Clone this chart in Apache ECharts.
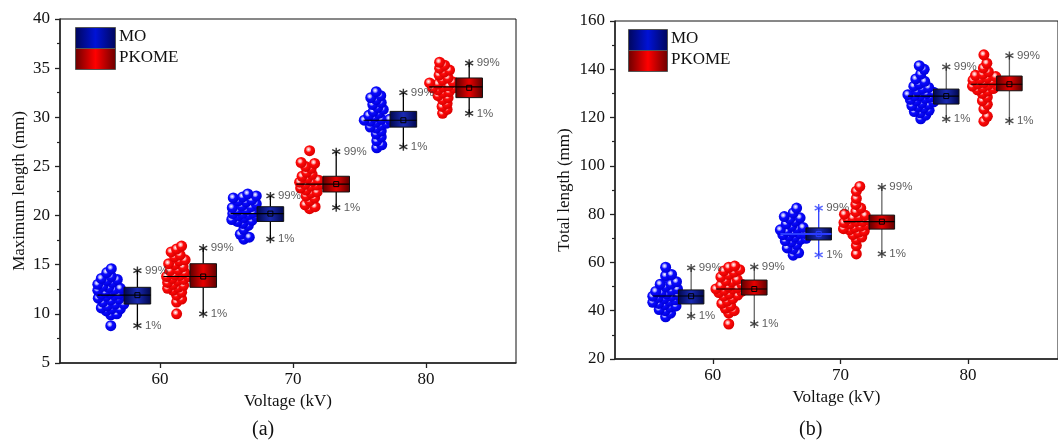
<!DOCTYPE html>
<html>
<head>
<meta charset="utf-8">
<script src="https://cdn.jsdelivr.net/npm/echarts@6/dist/echarts.min.js"></script>
<style>
  html, body { margin: 0; padding: 0; background: #fff; }
  #main { width: 1058px; height: 442px; }
</style>
</head>
<body>
<div id="main"></div>
<script>
// voltage groups (kV)
const voltages = [60, 70, 80];

// (a) maximum length (mm), individual measurements per voltage
const maxLenMO = [
  [8.8, 9.9, 10.0, 10.3, 10.5, 10.5, 10.6, 10.8, 11.0, 11.0, 11.2, 11.4, 11.5, 11.6, 11.8, 11.9, 11.9, 12.0, 12.0, 12.1, 12.2, 12.4, 12.5, 12.6, 12.7, 12.8, 13.0, 13.2, 13.4, 13.5, 13.6, 13.8, 14.2, 14.6],
  [17.6, 17.8, 18.1, 18.6, 19.0, 19.2, 19.4, 19.5, 19.6, 19.8, 19.9, 20.0, 20.1, 20.2, 20.2, 20.3, 20.5, 20.6, 20.8, 20.9, 21.0, 21.2, 21.4, 21.5, 21.6, 21.8, 21.9, 22.0, 22.2],
  [26.9, 27.2, 27.6, 28.0, 28.3, 28.6, 28.9, 29.0, 29.2, 29.4, 29.5, 29.6, 29.7, 29.8, 29.8, 30.0, 30.2, 30.4, 30.6, 30.8, 31.0, 31.3, 31.5, 31.8, 32.0, 32.2, 32.6]
];
const maxLenPKOME = [
  [10.0, 11.2, 11.5, 11.9, 12.2, 12.4, 12.6, 12.7, 12.9, 13.0, 13.2, 13.4, 13.5, 13.6, 13.8, 13.8, 13.9, 14.0, 14.2, 14.4, 14.5, 14.8, 15.0, 15.1, 15.4, 15.5, 15.8, 16.0, 16.3, 16.6, 16.9],
  [20.7, 20.9, 21.1, 21.5, 21.8, 22.0, 22.3, 22.4, 22.6, 22.8, 23.0, 23.1, 23.2, 23.2, 23.4, 23.5, 23.6, 23.8, 24.0, 24.2, 24.4, 24.8, 25.0, 25.3, 25.4, 26.6],
  [30.4, 30.8, 31.1, 31.4, 31.8, 32.0, 32.2, 32.5, 32.6, 32.8, 33.0, 33.0, 33.1, 33.2, 33.4, 33.5, 33.6, 33.8, 34.0, 34.3, 34.6, 34.8, 35.0, 35.3, 35.6]
];
// box stats: [1%, 25%, median, mean, 75%, 99%]
const maxLenMOBox = [[8.8, 11.0, 11.9, 11.9, 12.7, 14.4], [17.6, 19.4, 20.2, 20.2, 20.9, 22.0], [27.0, 29.0, 29.7, 29.7, 30.6, 32.5]];
const maxLenPKOMEBox = [[10.0, 12.7, 13.8, 13.8, 15.1, 16.7], [20.8, 22.4, 23.2, 23.2, 24.0, 26.5], [30.4, 32.0, 33.1, 33.0, 34.0, 35.5]];

// (b) total length (mm)
const totLenMO = [
  [37.5, 39.0, 40.0, 40.5, 41.5, 42.0, 42.5, 43.0, 43.5, 44.0, 44.5, 45.0, 45.5, 46.0, 46.0, 46.5, 47.0, 47.5, 48.0, 48.5, 49.0, 50.0, 51.0, 51.0, 52.0, 54.5, 55.0, 58.0],
  [63.0, 64.0, 65.5, 66.0, 67.5, 68.5, 69.0, 69.5, 70.0, 70.5, 71.0, 71.5, 72.0, 72.0, 72.5, 73.0, 73.5, 74.0, 74.5, 75.0, 76.0, 77.0, 78.0, 78.5, 79.0, 80.5, 82.5],
  [119.5, 121.0, 122.0, 122.5, 123.0, 124.0, 124.5, 125.0, 125.5, 126.0, 126.5, 127.0, 127.5, 128.0, 128.5, 129.0, 129.0, 129.5, 130.0, 130.5, 131.0, 132.0, 132.5, 133.0, 134.0, 135.0, 136.0, 138.0, 140.0, 141.5]
];
const totLenPKOME = [
  [34.5, 39.0, 40.0, 41.0, 42.0, 43.0, 44.0, 45.0, 46.0, 46.5, 47.0, 47.5, 48.0, 48.5, 49.0, 49.0, 49.5, 50.0, 50.5, 51.0, 52.0, 52.5, 53.0, 54.0, 55.0, 56.0, 56.5, 57.0, 58.0, 58.5],
  [63.5, 67.0, 69.5, 70.5, 71.5, 72.5, 73.0, 73.5, 74.0, 74.5, 75.0, 75.5, 76.0, 76.5, 77.0, 77.0, 77.5, 78.0, 78.5, 79.0, 79.5, 80.0, 81.0, 82.5, 84.0, 86.5, 89.5, 91.5],
  [118.5, 120.5, 123.5, 125.5, 127.0, 128.5, 130.0, 131.0, 131.5, 132.0, 132.5, 133.0, 133.5, 133.5, 134.0, 134.5, 135.0, 135.5, 136.0, 136.5, 137.0, 137.5, 138.0, 139.0, 140.5, 142.5, 146.0]
];
const totLenMOBox = [[37.8, 42.8, 46.1, 46.0, 48.6, 57.7], [63.1, 69.3, 71.8, 71.8, 74.3, 82.5], [119.4, 125.6, 128.9, 128.9, 131.8, 141.0]];
const totLenPKOMEBox = [[34.5, 46.5, 49.0, 49.0, 52.7, 58.2], [63.5, 73.8, 76.9, 76.9, 79.6, 91.2], [118.6, 131.1, 133.8, 133.8, 137.2, 145.7]];

const seriesNames = ['MO', 'PKOME'];

// layout / style
const SERIF = 'Liberation Serif';
const BOX_HALF = 1.0;        // half box width in kV
const BOX_OFF = [-1.7, 3.25]; // box centre offset from voltage
const SWARM_GAP = 2.0;       // swarm centre is left of the box
const SWARM_HALF = 13;       // max sideways spread of a swarm, px
const DOT = 11;
const ASTER = 'path://M5,0L5,10M0.67,2.5L9.33,7.5M0.67,7.5L9.33,2.5';

const blueDot = { type: 'radial', x: 0.4, y: 0.38, r: 0.6, colorStops: [
  { offset: 0, color: '#ffffff' }, { offset: 0.25, color: '#9a9aff' }, { offset: 0.45, color: '#0a0aff' }, { offset: 1, color: '#0000dc' }] };
const redDot = { type: 'radial', x: 0.4, y: 0.38, r: 0.6, colorStops: [
  { offset: 0, color: '#ffffff' }, { offset: 0.25, color: '#ff9a9a' }, { offset: 0.45, color: '#ff0a0a' }, { offset: 1, color: '#dc0000' }] };
const blueBox = [{ offset: 0, color: '#00064a' }, { offset: 0.5, color: '#1a2ab4' }, { offset: 1, color: '#00064a' }];
const redBox = [{ offset: 0, color: '#5a0000' }, { offset: 0.5, color: '#e80000' }, { offset: 1, color: '#5a0000' }];

const panels = [
  { grid: { left: 60, top: 19, width: 456, height: 344 }, x: [52.48, 86.77], y: [5, 40, 5],
    yName: 'Maximum length (mm)', yGap: 32, tag: '(a)', tagX: 263,
    pts: [maxLenMO, maxLenPKOME], box: [maxLenMOBox, maxLenPKOMEBox],
    whisker: [['#000', '#000', '#000'], ['#000', '#000', '#000']], legend: [75, 27, 40, 21] },
  { grid: { left: 615, top: 21, width: 448, height: 338 }, x: [52.33, 87.06], y: [20, 160, 20],
    yName: 'Total length (mm)', yGap: 42, tag: '(b)', tagX: 810,
    pts: [totLenMO, totLenPKOME], box: [totLenMOBox, totLenPKOMEBox],
    whisker: [['#666', '#2a3cff', '#666'], ['#666', '#666', '#666']], legend: [628, 29, 39, 21] }
];

// deterministic beeswarm: nearest free spot to the centre line, within a max spread;
// if nothing is free, take the least crowded spot
function swarm(values, cx, pxX, pxY, d) {
  const placed = [];
  const out = [];
  values.slice().sort((a, b) => a - b).forEach(v => {
    const py = v * pxY;
    let chosen = null, bestOff = 0, bestGap = -1;
    for (let k = 0; ; k++) {
      const off = k === 0 ? 0 : (k % 2 ? 1 : -1) * Math.ceil(k / 2) * 0.5;
      if (Math.abs(off) > SWARM_HALF) break;
      let gap = Infinity;
      placed.forEach(p => { gap = Math.min(gap, Math.hypot(p[0] - off, p[1] - py)); });
      if (gap >= d) { chosen = off; break; }
      if (gap > bestGap) { bestGap = gap; bestOff = off; }
    }
    if (chosen === null) chosen = bestOff;
    placed.push([chosen, py]);
    out.push([cx + chosen / pxX, v]);
  });
  return out;
}

function boxRenderer(stops, colors) {
  return function (params, api) {
    const x = api.value(0);
    const lc = colors[params.dataIndex];
    const special = lc !== '#000' && lc !== '#666';
    const tl = api.coord([x - BOX_HALF, api.value(5)]);
    const br = api.coord([x + BOX_HALF, api.value(2)]);
    const top = api.coord([x, api.value(6)]);
    const bot = api.coord([x, api.value(1)]);
    const mL = api.coord([api.value(7), api.value(3)]);
    const mR = api.coord([x + BOX_HALF, api.value(3)]);
    const mc = api.coord([x, api.value(4)]);
    const medColor = special ? lc : '#000';
    return { type: 'group', children: [
      { type: 'line', shape: { x1: top[0], y1: top[1], x2: top[0], y2: tl[1] }, style: { stroke: lc, lineWidth: 1.3 } },
      { type: 'line', shape: { x1: bot[0], y1: br[1], x2: bot[0], y2: bot[1] }, style: { stroke: lc, lineWidth: 1.3 } },
      { type: 'rect', shape: { x: tl[0], y: tl[1], width: br[0] - tl[0], height: br[1] - tl[1] },
        style: { fill: new echarts.graphic.LinearGradient(0, 0, 1, 0, stops), stroke: '#111', lineWidth: 1 } },
      { type: 'line', shape: { x1: mL[0], y1: mL[1], x2: mR[0], y2: mR[1] }, style: { stroke: medColor, lineWidth: special ? 2 : 1.2 } },
      { type: 'rect', shape: { x: mc[0] - 2.5, y: mc[1] - 2.5, width: 5, height: 5 }, style: { fill: 'none', stroke: medColor, lineWidth: 1 } }
    ] };
  };
}

const grid = [], xAxis = [], yAxis = [], series = [], graphic = [];

panels.forEach((p, pi) => {
  grid.push(Object.assign({ show: true, borderColor: '#111', borderWidth: 1, backgroundColor: 'transparent' }, p.grid));
  xAxis.push({
    type: 'value', gridIndex: pi, min: p.x[0], max: p.x[1],
    name: 'Voltage (kV)', nameLocation: 'middle', nameGap: 27,
    nameTextStyle: { fontFamily: SERIF, fontSize: 17, color: '#111' },
    axisLine: { show: true, onZero: false, lineStyle: { color: '#222', width: 1.5 } },
    axisTick: { show: true, length: 5, customValues: voltages, lineStyle: { color: '#222', width: 1.3 } },
    axisLabel: { customValues: voltages, fontFamily: SERIF, fontSize: 17, color: '#111', margin: 8 },
    splitLine: { show: false }
  });
  yAxis.push({
    type: 'value', gridIndex: pi, min: p.y[0], max: p.y[1], interval: p.y[2],
    name: p.yName, nameLocation: 'middle', nameGap: p.yGap, nameRotate: 90,
    nameTextStyle: { fontFamily: SERIF, fontSize: 17, color: '#111' },
    axisLine: { show: true, onZero: false, lineStyle: { color: '#222', width: 1.5 } },
    axisTick: { show: true, length: 5, lineStyle: { color: '#222', width: 1.3 } },
    minorTick: { show: true, splitNumber: 2, length: 3, lineStyle: { color: '#222', width: 1.2 } },
    axisLabel: { fontFamily: SERIF, fontSize: 17, color: '#111', margin: 10 },
    splitLine: { show: false }
  });

  const pxX = p.grid.width / (p.x[1] - p.x[0]);
  const pxY = p.grid.height / (p.y[1] - p.y[0]);
  const asterData = [];

  [0, 1].forEach(si => {
    const boxData = [];
    let dots = [];
    voltages.forEach((v, gi) => {
      const bx = v + BOX_OFF[si];
      const cx = bx - SWARM_GAP;
      dots = dots.concat(swarm(p.pts[si][gi], cx, pxX, pxY, 5.8));
      const b = p.box[si][gi];
      boxData.push([bx, b[0], b[1], b[2], b[3], b[4], b[5], cx - 1.0]);
      const ac = p.whisker[si][gi] === '#666' ? '#222' : p.whisker[si][gi];
      asterData.push({ value: [bx, b[5], '99%'], itemStyle: { borderColor: ac } });
      asterData.push({ value: [bx, b[0], '1%'], itemStyle: { borderColor: ac } });
    });
    series.push({
      name: seriesNames[si], type: 'scatter', xAxisIndex: pi, yAxisIndex: pi, z: 2,
      symbol: 'circle', symbolSize: DOT, data: dots,
      itemStyle: { color: si === 0 ? blueDot : redDot, opacity: 1 },
      emphasis: { disabled: true }
    });
    series.push({
      type: 'custom', xAxisIndex: pi, yAxisIndex: pi, z: 3,
      renderItem: boxRenderer(si === 0 ? blueBox : redBox, p.whisker[si]),
      data: boxData, encode: { x: 0, y: [1, 6] }
    });
  });

  series.push({
    type: 'scatter', xAxisIndex: pi, yAxisIndex: pi, z: 4,
    symbol: ASTER, symbolSize: 8, data: asterData,
    itemStyle: { color: 'none', borderColor: '#111', borderWidth: 1.4 },
    label: { show: true, position: 'right', distance: 1, formatter: q => q.value[2],
      fontFamily: 'Liberation Sans', fontSize: 11.5, color: '#333' },
    emphasis: { disabled: true }
  });

  // legend swatches
  const [lx, ly, lw, lh] = p.legend;
  [0, 1].forEach(k => {
    const legStops = k === 0
      ? [{ offset: 0, color: '#00065a' }, { offset: 0.5, color: '#0012d6' }, { offset: 1, color: '#00065a' }]
      : [{ offset: 0, color: '#6a0000' }, { offset: 0.5, color: '#ff0000' }, { offset: 1, color: '#6a0000' }];
    graphic.push({ type: 'rect', left: lx, top: ly + k * lh, shape: { width: lw, height: lh },
      style: { fill: new echarts.graphic.LinearGradient(0, 0, 1, 0, legStops), stroke: '#555', lineWidth: 1 }, z: 10 });
    graphic.push({ type: 'text', left: lx + lw + 4, top: ly + k * lh + 1,
      style: { text: seriesNames[k], font: '17px ' + SERIF, fill: '#111' }, z: 10 });
  });
  graphic.push({ type: 'text', left: p.tagX - 11, top: 420,
    style: { text: p.tag, font: '20px ' + SERIF, fill: '#111' } });
});

const chart = echarts.init(document.getElementById('main'));
chart.setOption({
  animation: false,
  backgroundColor: '#fff',
  grid, xAxis, yAxis, series, graphic
});
</script>
</body>
</html>
